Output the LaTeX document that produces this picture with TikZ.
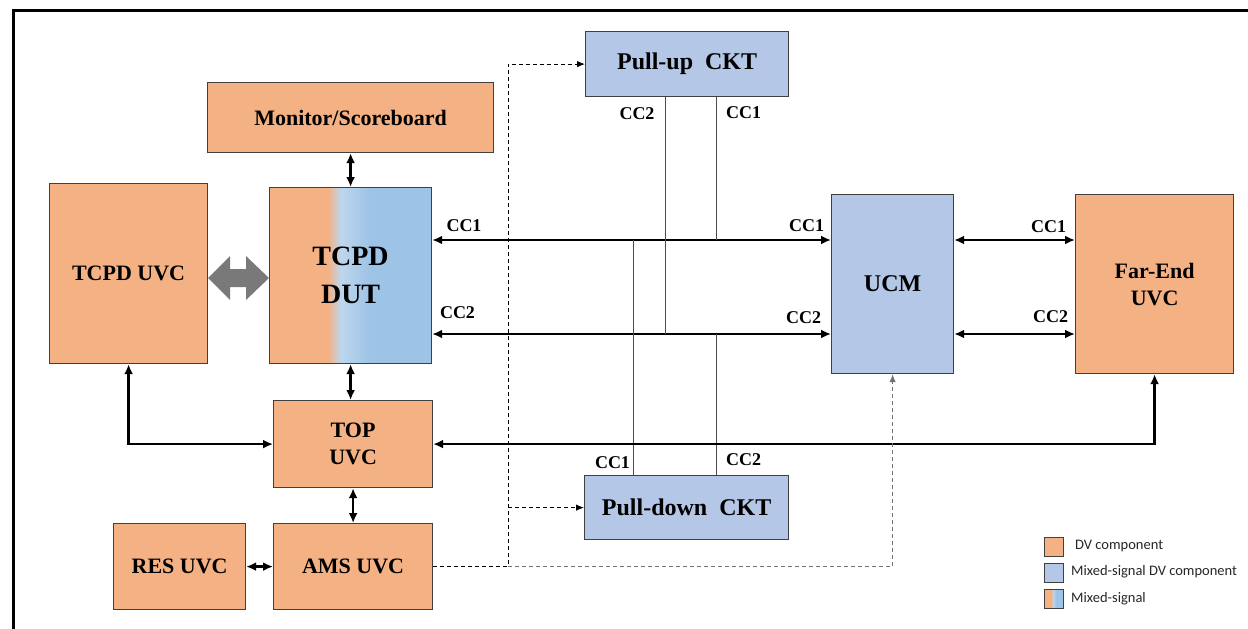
\documentclass[tikz,border=0pt]{standalone}
\usepackage{fontspec}
\setmainfont{Liberation Serif}
\newfontfamily\legfont{Carlito}
\usetikzlibrary{arrows.meta,calc}
\definecolor{dvor}{HTML}{F4B183}
\definecolor{msl}{HTML}{B4C7E7}
\definecolor{msb}{HTML}{9DC3E6}
\definecolor{msx}{HTML}{BDD7EE}
\definecolor{brd}{HTML}{404040}
\pgfdeclarehorizontalshading{dutshade}{100bp}{color(0bp)=(dvor); color(43bp)=(dvor); color(47bp)=(msx); color(56bp)=(msb); color(100bp)=(msb)}
\begin{document}
\begin{tikzpicture}[x=1pt,y=-1pt,
  box/.style={draw=brd, line width=1.2pt, inner sep=0pt, anchor=north west, align=center,
    font=\fontsize{22}{27}\selectfont\bfseries},
  dv/.style={box, fill=dvor},
  ms/.style={box, fill=msl},
  bus/.style={line width=2.4pt, {Latex[length=10pt,width=9pt]}-{Latex[length=10pt,width=9pt]}},
  tap/.style={line width=1pt, draw=black!70},
  ctl/.style={line width=1pt, dash pattern=on 4pt off 3pt},
  ctlarr/.style={ctl, -{Latex[length=8pt,width=6.5pt]}},
  lbl/.style={inner sep=0pt, font=\fontsize{18}{20}\selectfont\bfseries},
  legbox/.style={draw=brd, line width=1pt, minimum width=19pt, minimum height=19pt, inner sep=0pt, anchor=north west},
  legtxt/.style={anchor=west, inner sep=0pt, text=black!85, font=\legfont\fontsize{14.5}{16}\selectfont}]
\useasboundingbox (0,0) rectangle (1248,629);
% frame
\draw[line width=3pt] (13.5,629) -- (13.5,10.5) -- (1248,10.5);

% blocks
\node[dv, minimum width=286, minimum height=70] (mon) at (207,82) {Monitor/Scoreboard};
\node[dv, minimum width=158, minimum height=180] (tuvc) at (49,183) {TCPD UVC};
\node[box, shading=dutshade, minimum width=162, minimum height=176,
  font=\fontsize{28}{38}\selectfont\bfseries] (dut) at (269,187) {TCPD\\DUT};
\node[ms, minimum width=203, minimum height=65, font=\fontsize{24}{28}\selectfont\bfseries] (pu) at (585,31) {Pull-up\ \ CKT};
\node[ms, minimum width=204, minimum height=64, font=\fontsize{24}{28}\selectfont\bfseries] (pd) at (584,475) {Pull-down\ \ CKT};
\node[ms, minimum width=122, minimum height=179, font=\fontsize{24}{28}\selectfont\bfseries] (ucm) at (831,194) {UCM};
\node[dv, minimum width=158, minimum height=179] (far) at (1075,194) {Far-End\\UVC};
\node[dv, minimum width=159, minimum height=87] (top) at (273,400) {TOP\\UVC};
\node[dv, minimum width=159, minimum height=86] (ams) at (273,523) {AMS UVC};
\node[dv, minimum width=132, minimum height=86] (res) at (113,523) {RES UVC};

% gray double arrow between TCPD UVC and DUT
\fill[gray!95!black] (tuvc.east |- 0,278) -- (230,256) -- (230,269) -- (246,269) -- (246,256)
  -- (dut.west |- 0,278) -- (246,300) -- (246,287) -- (230,287) -- (230,300) -- cycle;

% bus coordinates
\coordinate (yc1) at (0,240);
\coordinate (yc2) at (0,334);

% CC buses
\draw[bus] (dut.east |- yc1) -- (ucm.west |- yc1);
\draw[bus] (dut.east |- yc2) -- (ucm.west |- yc2);
\draw[bus] (ucm.east |- yc1) -- (far.west |- yc1);
\draw[bus] (ucm.east |- yc2) -- (far.west |- yc2);

% taps from pull-up / pull-down
\draw[tap] ([xshift=-21.5pt]pu.south) -- ([xshift=-21.5pt]pu.south |- yc2);
\draw[tap] ([xshift=29.5pt]pu.south) -- ([xshift=29.5pt]pu.south |- yc1);
\draw[tap] ([xshift=-53pt]pd.north) -- ([xshift=-53pt]pd.north |- yc1);
\draw[tap] ([xshift=30pt]pd.north) -- ([xshift=30pt]pd.north |- yc2);

% vertical links
\draw[bus] (mon.south) -- (dut.north);
\draw[bus] (dut.south) -- (dut.south |- top.north);
\draw[bus] (top.south) -- (top.south |- ams.north);
\draw[bus] (res.east) -- (ams.west);
\draw[bus] (top.east) -- (far.south |- top.east) -- (far.south);
\draw[bus] (tuvc.south) -- (tuvc.south |- top.west) -- (top.west);

% dashed control lines
\coordinate (dx) at (508,0);
\draw[ctlarr] (ams.east) -- (dx |- ams.east) -- (dx |- pu.west) -- (pu.west);
\draw[ctlarr] (dx |- pd.west) -- (pd.west);
\draw[ctlarr, draw=black!55] (dx |- ams.east) -- (ucm.south |- ams.east) -- (ucm.south);

% CC labels
\node[lbl] (l1) at (464,226) {CC1};
\node[lbl] (l2) at (457.5,313) {CC2};
\node[lbl] (l3) at (806.5,226) {CC1};
\node[lbl] (l4) at (803.5,318) {CC2};
\node[lbl] (l5) at (1048.5,227) {CC1};
\node[lbl] (l6) at (1050.5,316.5) {CC2};
\node[lbl] (l7) at (637,114) {CC2};
\node[lbl] (l8) at (743.5,112.5) {CC1};
\node[lbl] (l9) at (612.5,462.5) {CC1};
\node[lbl] (l10) at (743.5,459.5) {CC2};

% legend
\node[legbox, fill=dvor] (lg1) at (1044,537) {};
\node[legbox, fill=msl] (lg2) at (1044,563) {};
\node[legbox, shading=dutshade] (lg3) at (1044,589) {};
\node[legtxt] (lt1) at (1075,546) {DV component};
\node[legtxt] (lt2) at (1071,572) {Mixed-signal DV component};
\node[legtxt] (lt3) at (1071,599) {Mixed-signal};
\end{tikzpicture}
\end{document}
